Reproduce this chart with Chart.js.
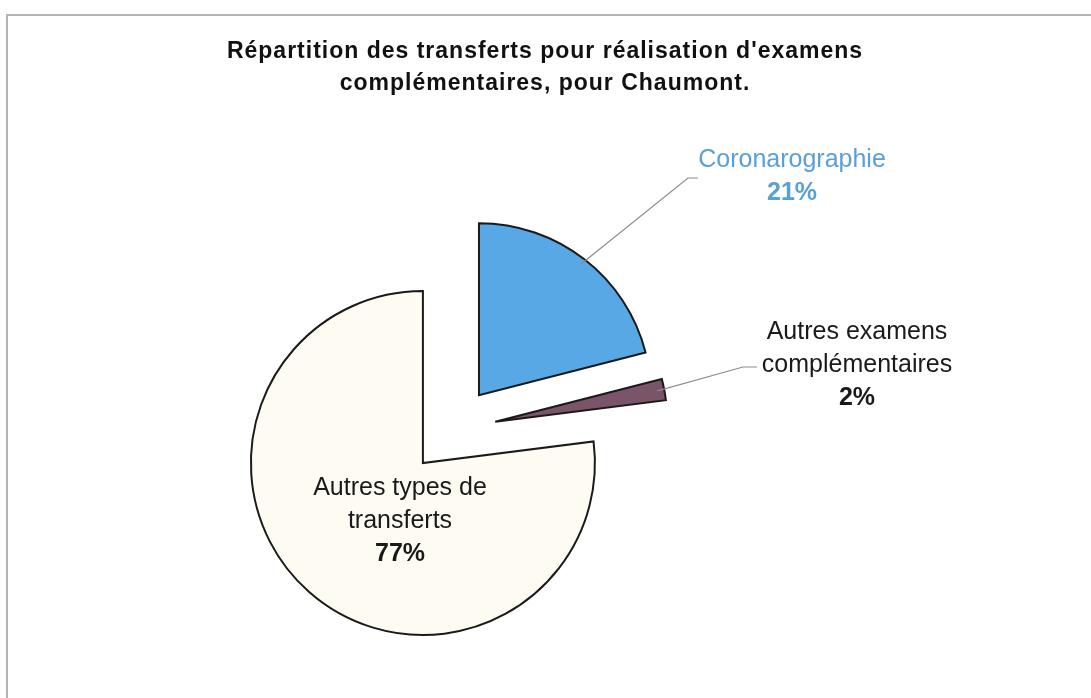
<!DOCTYPE html>
<html>
<head>
<meta charset="utf-8">
<title>Répartition des transferts - Chaumont</title>
<script src="https://cdn.jsdelivr.net/npm/chart.js@4.4.0/dist/chart.umd.min.js"></script>
<style>
  html, body { margin: 0; padding: 0; background: #fff; }
  #wrap { width: 1091px; height: 698px; }
</style>
</head>
<body>
<div id="wrap"><canvas id="pieChart"></canvas></div>
<script>
// Data
const categories = ['Coronarographie', 'Autres examens complémentaires', 'Autres types de transferts'];
const percentages = [21, 2, 77];
const labelLines = [['Coronarographie'], ['Autres examens', 'complémentaires'], ['Autres types de', 'transferts']];
const titleLines = ["Répartition des transferts pour réalisation d'examens", 'complémentaires, pour Chaumont.'];

// Styles
const sliceColors = ['#58a8e6', '#7a5468', '#fefcf2'];
const labelColors = ['#5aa0d8', '#1a1a1a', '#1a1a1a'];
const FONT = '"Liberation Sans", Arial, sans-serif';
const EXPLODE = 44;
// label anchor (centre x, first baseline) and leader elbow/end per slice
const labelLayout = [
    { x: 792, y: 167, leader: [[688, 178], [698, 178]] },
    { x: 857, y: 339, leader: [[743, 367], [757, 367]] },
    { x: 400, y: 495, leader: null }
];

// push every slice out from the centre along its mid angle
const explode = {
    id: 'explode',
    afterDatasetUpdate(chart, args) {
        args.meta.data.forEach(arc => {
            const mid = (arc.startAngle + arc.endAngle) / 2;
            arc.x += Math.cos(mid) * EXPLODE;
            arc.y += Math.sin(mid) * EXPLODE;
        });
    }
};

const decorations = {
    id: 'decorations',
    beforeDraw(chart) {
        const ctx = chart.ctx;
        ctx.save();
        ctx.strokeStyle = '#b4b4b4';
        ctx.lineWidth = 2;
        ctx.strokeRect(7, 15, chart.width + 20, chart.height + 20);

        ctx.fillStyle = '#111';
        ctx.font = 'bold 23px ' + FONT;
        ctx.textAlign = 'center';
        ctx.letterSpacing = '1px';
        titleLines.forEach((t, i) => ctx.fillText(t, 545, 58 + i * 32));
        ctx.restore();
    },
    afterDatasetsDraw(chart) {
        const ctx = chart.ctx;
        const arcs = chart.getDatasetMeta(0).data;
        ctx.save();
        arcs.forEach((arc, i) => {
            const lay = labelLayout[i];
            if (lay.leader) {
                const mid = (arc.startAngle + arc.endAngle) / 2;
                ctx.beginPath();
                ctx.moveTo(arc.x + Math.cos(mid) * arc.outerRadius * 0.96,
                           arc.y + Math.sin(mid) * arc.outerRadius * 0.96);
                lay.leader.forEach(p => ctx.lineTo(p[0], p[1]));
                ctx.strokeStyle = '#8c8c8c';
                ctx.lineWidth = 1.2;
                ctx.stroke();
            }
            ctx.fillStyle = labelColors[i];
            ctx.textAlign = 'center';
            ctx.textBaseline = 'alphabetic';
            ctx.font = '25px ' + FONT;
            const lines = labelLines[i];
            lines.forEach((t, k) => ctx.fillText(t, lay.x, lay.y + k * 33));
            ctx.font = 'bold 25px ' + FONT;
            ctx.fillText(percentages[i] + '%', lay.x, lay.y + lines.length * 33);
        });
        ctx.restore();
    }
};

new Chart(document.getElementById('pieChart'), {
    type: 'pie',
    data: {
        labels: categories,
        datasets: [{
            data: percentages,
            backgroundColor: sliceColors,
            borderColor: '#1a1a1a',
            borderWidth: 2,
            borderJoinStyle: 'miter'
        }]
    },
    options: {
        responsive: true,
        maintainAspectRatio: false,
        animation: false,
        radius: 172,
        layout: { padding: { left: 0, right: 187, top: 162, bottom: 0 } },
        plugins: {
            legend: { display: false },
            title: { display: false },
            tooltip: { enabled: false }
        }
    },
    plugins: [explode, decorations]
});
</script>
</body>
</html>
